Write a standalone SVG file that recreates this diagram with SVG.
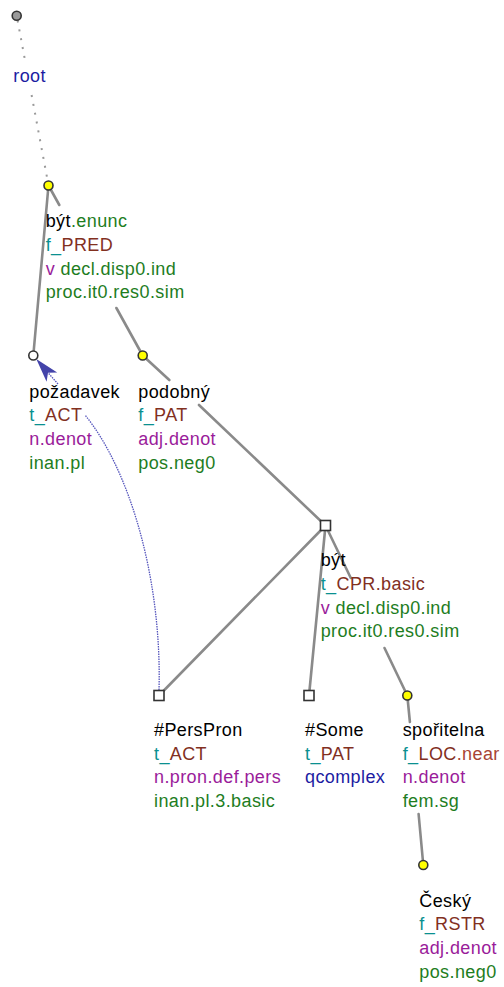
<svg xmlns="http://www.w3.org/2000/svg" width="504" height="987" viewBox="0 0 504 987">
<style>
text{font-family:"Liberation Sans",Arial,sans-serif;font-size:18px;letter-spacing:0.4px}
.k{fill:#000}.g{fill:#1e7d1e}.t{fill:#0a9090}.b{fill:#82301f}.r{fill:#a84434}.p{fill:#9a1c9a}.u{fill:#1c1ca2}
.e{fill:none;stroke:#8a8a8a;stroke-width:2.6;stroke-linecap:round}
.d{fill:none;stroke:#9a9a9a;stroke-width:2;stroke-dasharray:2 7}
.c{fill:none;stroke:#5454bc;stroke-width:1.3;stroke-dasharray:1.5 1}
.ah{fill:#4444aa}
.nc{stroke:#333;stroke-width:1.6}
.y{fill:#ffff00}.w{fill:#fff}.gr{fill:#9a9a9a}
</style>
<g id="connectors">
<path class="d" d="M17.6 20.5 L25.7 64 M31.6 95 L47.7 181"/>
<path class="e" d="M48.5 185.5 L33.3 355.5"/>
<path class="e" d="M48.5 185.5 L59.3 205 M116.4 308 L142.7 355.5"/>
<path class="e" d="M142.7 355.5 L169.3 380 M199 405 L325.5 525.5"/>
<path class="e" d="M325.5 525.5 L159 695.5"/>
<path class="e" d="M325.5 525.5 L309 695.5"/>
<path class="e" d="M325.5 525.5 L350.8 578 M384.5 648 L407.3 695.5"/>
<path class="e" d="M407.3 695.5 L409.9 722 M418.6 814 L423.3 865"/>
<path class="c" d="M159 690 C162 580 130 470 85 415 M58 384 L48 372.7"/>
<polygon class="ah" points="36.3,359 57.2,372.6 48,372.7 46.6,381.7"/>
</g>
<g id="n-root">
<circle class="nc gr" cx="16.7" cy="15.7" r="4.5"/>
<text x="13.3" y="81.5" class="u">root</text>
</g>
<g id="n-byt1">
<circle class="nc y" cx="48.5" cy="185.5" r="4.5"/>
<text x="45.7" y="227"><tspan class="k">být</tspan><tspan class="g">.enunc</tspan></text>
<text x="45.7" y="250.8"><tspan class="t">f_</tspan><tspan class="b">PRED</tspan></text>
<text x="45.7" y="274.6"><tspan class="p">v</tspan><tspan class="g"> decl.disp0.ind</tspan></text>
<text x="45.7" y="298.4" class="g">proc.it0.res0.sim</text>
</g>
<g id="n-pozadavek">
<circle class="nc w" cx="33.3" cy="355.5" r="4.5"/>
<text x="29.3" y="397.5" class="k">požadavek</text>
<text x="29.3" y="421.3"><tspan class="t">t_</tspan><tspan class="b">ACT</tspan></text>
<text x="29.3" y="445.1" class="p">n.denot</text>
<text x="29.3" y="468.9" class="g">inan.pl</text>
</g>
<g id="n-podobny">
<circle class="nc y" cx="142.7" cy="355.5" r="4.5"/>
<text x="138.3" y="397.5" class="k">podobný</text>
<text x="138.3" y="421.3"><tspan class="t">f_</tspan><tspan class="b">PAT</tspan></text>
<text x="138.3" y="445.1" class="p">adj.denot</text>
<text x="138.3" y="468.9" class="g">pos.neg0</text>
</g>
<g id="n-byt2">
<rect class="nc w" x="320.5" y="520.5" width="10" height="10"/>
<text x="320.7" y="566" class="k">být</text>
<text x="320.7" y="589.8"><tspan class="t">t_</tspan><tspan class="b">CPR.basic</tspan></text>
<text x="320.7" y="613.6"><tspan class="p">v</tspan><tspan class="g"> decl.disp0.ind</tspan></text>
<text x="320.7" y="637.4" class="g">proc.it0.res0.sim</text>
</g>
<g id="n-perspron">
<rect class="nc w" x="154" y="690.5" width="10" height="10"/>
<text x="154" y="735.8" class="k">#PersPron</text>
<text x="154" y="759.6"><tspan class="t">t_</tspan><tspan class="b">ACT</tspan></text>
<text x="154" y="783.4" class="p">n.pron.def.pers</text>
<text x="154" y="807.2" class="g">inan.pl.3.basic</text>
</g>
<g id="n-some">
<rect class="nc w" x="304" y="690.5" width="10" height="10"/>
<text x="305" y="735.8" class="k">#Some</text>
<text x="305" y="759.6"><tspan class="t">t_</tspan><tspan class="b">PAT</tspan></text>
<text x="305" y="783.4" class="u">qcomplex</text>
</g>
<g id="n-sporitelna">
<circle class="nc y" cx="407.3" cy="695.5" r="4.5"/>
<text x="402.7" y="735.8" class="k">spořitelna</text>
<text x="402.7" y="759.6"><tspan class="t">f_</tspan><tspan class="b">LOC</tspan><tspan class="r">.near</tspan></text>
<text x="402.7" y="783.4" class="p">n.denot</text>
<text x="402.7" y="807.2" class="g">fem.sg</text>
</g>
<g id="n-cesky">
<circle class="nc y" cx="423.3" cy="865" r="4.5"/>
<text x="419.3" y="906.5" class="k">Český</text>
<text x="419.3" y="930.2"><tspan class="t">f_</tspan><tspan class="b">RSTR</tspan></text>
<text x="419.3" y="953.9" class="p">adj.denot</text>
<text x="419.3" y="977.6" class="g">pos.neg0</text>
</g>
</svg>
